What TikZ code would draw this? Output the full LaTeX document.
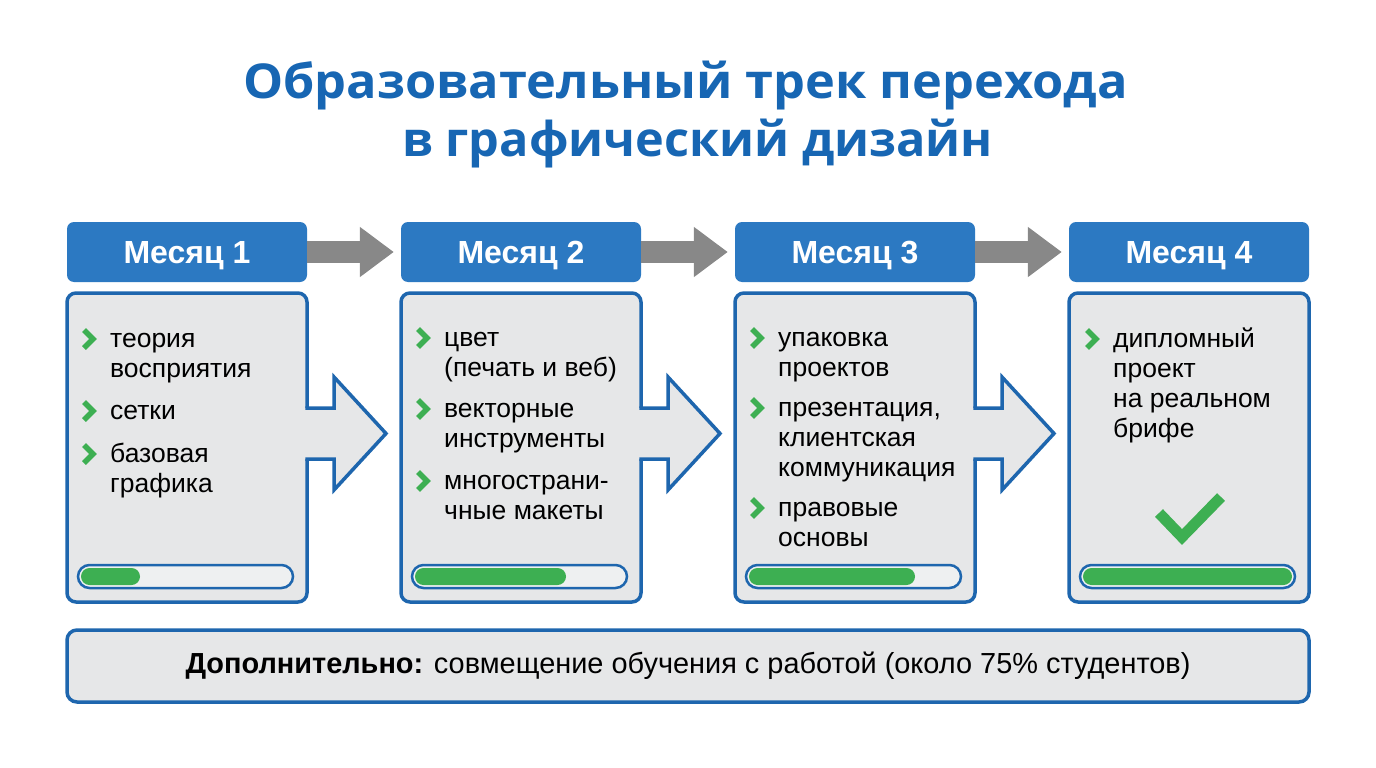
\documentclass[tikz,border=0pt]{standalone}
\usepackage{fontspec}
\usepackage{graphicx}
\setmainfont{Liberation Sans}
\newfontfamily\titlefont{Open Sans}
\usetikzlibrary{arrows.meta}
\definecolor{titleblue}{HTML}{1766B3}
\definecolor{hdrblue}{HTML}{2C79C2}
\definecolor{lineblue}{HTML}{1E66AE}
\definecolor{bodygray}{HTML}{E6E7E8}
\definecolor{bargray}{HTML}{EEF0F1}
\definecolor{okgreen}{HTML}{3DAF52}
\definecolor{arrowgray}{HTML}{888888}
\tikzset{
  titletext/.style={anchor=base, text=titleblue, inner sep=0, font=\titlefont\bfseries\fontsize{48}{54}\selectfont},
  hdr/.style={fill=hdrblue, rounded corners=7pt, minimum width=240pt, minimum height=60pt, inner sep=0,
    text height=23pt, text depth=0pt, text=white, font=\bfseries\fontsize{32}{36}\selectfont},
  bodybox/.style={draw=lineblue, line width=3.5pt, fill=bodygray, rounded corners=9pt,
    minimum width=240pt, minimum height=309pt, inner sep=0},
  item/.style={anchor=mid west, inner sep=0, yshift=-7pt, font=\fontsize{26.5}{30}\selectfont},
  chev/.style={draw=okgreen, line width=5.5pt, line cap=butt, line join=miter},
  flowfill/.style={fill=bodygray},
  flowline/.style={draw=lineblue, line width=3.5pt, line join=miter},
  hdrarrow/.style={draw=arrowgray, line width=22pt, shorten >=7pt,
    -{Triangle[length=34pt 0 0, width=48pt 0 0]}},
  barouter/.style={draw=lineblue, line width=2.5pt, fill=bargray, rounded corners=11.5pt},
  barfill/.style={fill=okgreen, rounded corners=8.5pt},
  checkmark/.style={draw=okgreen, line width=11pt, line join=miter},
  bottombox/.style={draw=lineblue, line width=3.5pt, fill=bodygray, rounded corners=10pt,
    minimum width=1242pt, minimum height=72pt, inner sep=0, font=\fontsize{29}{32}\selectfont}
}
\newcommand{\twolines}[2]{\begin{tabular}[t]{@{}l@{}}#1\\#2\end{tabular}}
\newcommand{\threelines}[3]{\begin{tabular}[t]{@{}l@{}}#1\\#2\\#3\end{tabular}}
\newcommand{\fourlines}[4]{\begin{tabular}[t]{@{}l@{}}#1\\#2\\#3\\#4\end{tabular}}
\begin{document}
\begin{tikzpicture}[x=1pt,y=-1pt]
\useasboundingbox[fill=white] (0,0) rectangle (1376,768);

% Title
\node[titletext] (t1) at (685.5,98) {\resizebox{885pt}{\height}{Образовательный трек перехода}};
\node[titletext] (t2) at (697.5,156) {\resizebox{591pt}{\height}{в графический дизайн}};

% Headers
\node[hdr] (h1) at (187,252) {Месяц 1};
\node[hdr] (h2) at (521,252) {Месяц 2};
\node[hdr] (h3) at (855,252) {Месяц 3};
\node[hdr] (h4) at (1189,252) {Месяц 4};
\draw[hdrarrow] (h1.east) -- (h2.west);
\draw[hdrarrow] (h2.east) -- (h3.west);
\draw[hdrarrow] (h3.east) -- (h4.west);

% Body boxes
\node[bodybox] (b1) at (187,447.5) {};
\node[bodybox] (b2) at (521,447.5) {};
\node[bodybox] (b3) at (855,447.5) {};
\node[bodybox] (b4) at (1189,447.5) {};

% Flow arrows out of boxes 1-3
\foreach \R in {307,641,975}{
  \fill[flowfill] (\R-2.5,408) -- (\R+27,408) -- (\R+27,377) -- (\R+79,433.5) -- (\R+27,490) -- (\R+27,459) -- (\R-2.5,459) -- cycle;
  \draw[flowline] (\R-1.75,408) -- (\R+27,408) -- (\R+27,377) -- (\R+79,433.5) -- (\R+27,490) -- (\R+27,459) -- (\R-1.75,459);
}

% Month 1 items
\draw[chev] (84,330) -- (93,339) -- (84,348);
\node[item] (m1a) at (110,338) {\twolines{теория}{восприятия}};
\draw[chev] (84,402) -- (93,411) -- (84,420);
\node[item] (m1b) at (110,410) {сетки};
\draw[chev] (84,445) -- (93,454) -- (84,463);
\node[item] (m1c) at (110,453) {\twolines{базовая}{графика}};

% Month 2 items
\draw[chev] (418,329) -- (427,338) -- (418,347);
\node[item] (m2a) at (444,337) {\twolines{цвет}{(печать и веб)}};
\draw[chev] (418,400) -- (427,409) -- (418,418);
\node[item] (m2b) at (444,408) {\twolines{векторные}{инструменты}};
\draw[chev] (418,472) -- (427,481) -- (418,490);
\node[item] (m2c) at (444,480) {\twolines{многострани-}{чные макеты}};

% Month 3 items
\draw[chev] (752,329) -- (761,338) -- (752,347);
\node[item] (m3a) at (778,337) {\twolines{упаковка}{проектов}};
\draw[chev] (752,399) -- (761,408) -- (752,417);
\node[item] (m3b) at (778,407) {\threelines{презентация,}{клиентская}{коммуникация}};
\draw[chev] (752,499) -- (761,508) -- (752,517);
\node[item] (m3c) at (778,507) {\twolines{правовые}{основы}};

% Month 4 items
\draw[chev] (1087,330) -- (1096,339) -- (1087,348);
\node[item] (m4a) at (1113,338) {\fourlines{дипломный}{проект}{на реальном}{брифе}};
\draw[checkmark] (1159,513) -- (1182,537) -- (1221,497);

% Progress bars
\draw[barouter] (78,565) rectangle (293,588);
\fill[barfill] (81,568) rectangle (140,585);
\draw[barouter] (412,565) rectangle (627,588);
\fill[barfill] (415,568) rectangle (566,585);
\draw[barouter] (746,565) rectangle (961,588);
\fill[barfill] (749,568) rectangle (915,585);
\draw[barouter] (1080,565) rectangle (1295,588);
\fill[barfill] (1083,568) rectangle (1292,585);

% Bottom box
\node[bottombox] (extra) at (688,666) {\resizebox{1005pt}{\height}{\textbf{Дополнительно:} совмещение обучения с работой (около 75\% студентов)}};
\end{tikzpicture}
\end{document}
